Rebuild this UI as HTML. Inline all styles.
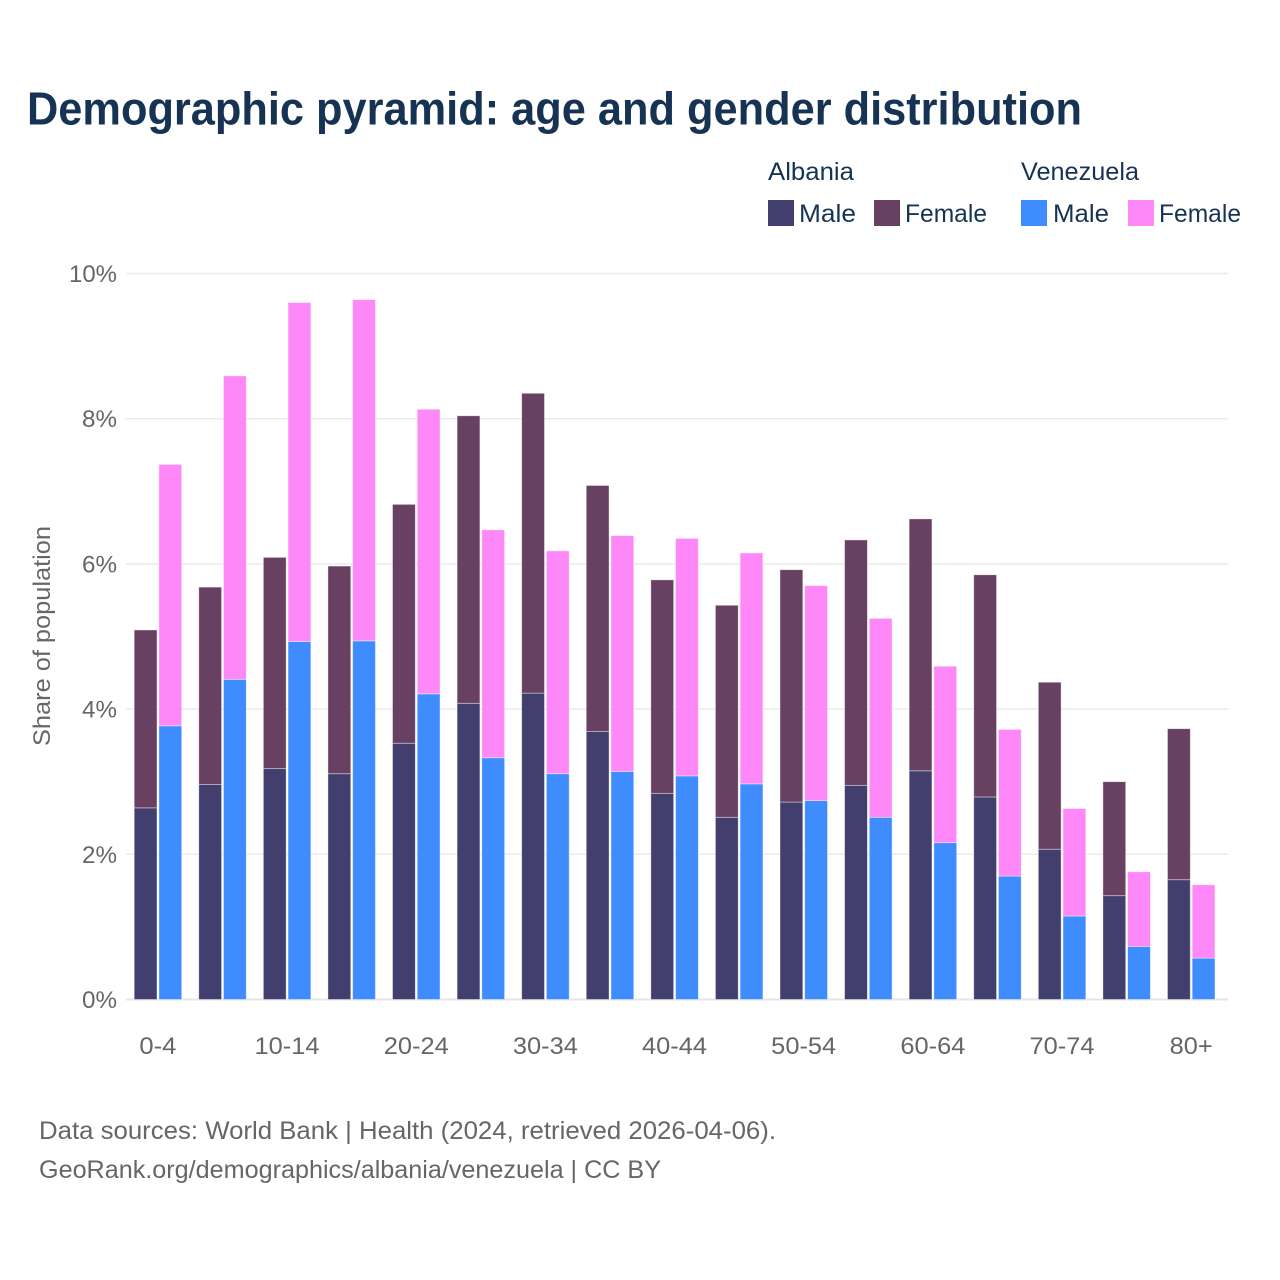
<!DOCTYPE html>
<html lang="en">
<head>
<meta charset="utf-8">
<title>Demographic pyramid: age and gender distribution</title>
<style>
html,body{margin:0;padding:0;background:#fff;width:1280px;height:1280px;overflow:hidden}
svg{display:block}
text{font-family:"Liberation Sans",sans-serif}
</style>
</head>
<body>
<svg id="chart" xmlns="http://www.w3.org/2000/svg" width="1280" height="1280" viewBox="0 0 1280 1280">
<rect x="0" y="0" width="1280" height="1280" fill="#fff"/>
<text x="27" y="124.5" font-size="46" font-weight="700" fill="#173354" textLength="1055" lengthAdjust="spacingAndGlyphs">Demographic pyramid: age and gender distribution</text>

<g font-size="25" fill="#173354">
<text x="768" y="180" textLength="86" lengthAdjust="spacingAndGlyphs">Albania</text>
<text x="1021" y="180" textLength="118" lengthAdjust="spacingAndGlyphs">Venezuela</text>
<rect x="768" y="200" width="26" height="26" fill="#423e6e"/>
<text x="799" y="222" textLength="57" lengthAdjust="spacingAndGlyphs">Male</text>
<rect x="874" y="200" width="26" height="26" fill="#674062"/>
<text x="905" y="222" textLength="82" lengthAdjust="spacingAndGlyphs">Female</text>
<rect x="1021" y="200" width="26" height="26" fill="#3f8cff"/>
<text x="1053" y="222" textLength="56" lengthAdjust="spacingAndGlyphs">Male</text>
<rect x="1128" y="200" width="26" height="26" fill="#ff88f9"/>
<text x="1159" y="222" textLength="82" lengthAdjust="spacingAndGlyphs">Female</text>
</g>

<g id="grid"></g>
<g id="yticks"></g>
<text x="0" y="0" transform="translate(50,746) rotate(-90)" font-size="24.5" fill="#666" textLength="220" lengthAdjust="spacingAndGlyphs">Share of population</text>
<g id="bars"></g>
<g id="xticks"></g>

<text x="39" y="1139" font-size="25" fill="#666" textLength="737" lengthAdjust="spacingAndGlyphs">Data sources: World Bank | Health (2024, retrieved 2026-04-06).</text>
<text x="39" y="1178" font-size="25" fill="#666" textLength="622" lengthAdjust="spacingAndGlyphs">GeoRank.org/demographics/albania/venezuela | CC BY</text>
</svg>
<script>
const categories = ['0-4','5-9','10-14','15-19','20-24','25-29','30-34','35-39','40-44','45-49','50-54','55-59','60-64','65-69','70-74','75-79','80+'];
const albaniaMale = [2.64,2.96,3.18,3.11,3.53,4.08,4.22,3.69,2.84,2.51,2.72,2.95,3.15,2.79,2.07,1.43,1.65];
const albaniaFemale = [2.45,2.72,2.91,2.86,3.29,3.96,4.13,3.39,2.94,2.92,3.20,3.38,3.47,3.06,2.30,1.57,2.08];
const venezuelaMale = [3.77,4.41,4.93,4.94,4.21,3.33,3.11,3.14,3.08,2.97,2.74,2.51,2.16,1.70,1.15,0.73,0.57];
const venezuelaFemale = [3.60,4.18,4.67,4.70,3.92,3.14,3.07,3.25,3.27,3.18,2.96,2.74,2.43,2.02,1.48,1.03,1.01];
const yTickValues = [0,2,4,6,8,10];
const yTickLabels = ['0%','2%','4%','6%','8%','10%'];
const xTickLabels = ['0-4','10-14','20-24','30-34','40-44','50-54','60-64','70-74','80+'];
const xTickCategoryIndex = [0,2,4,6,8,10,12,14,16];

const NS = 'http://www.w3.org/2000/svg';
function yScale(v){ return 999.5 - v * 72.6; }
function xCenter(i){ return 158.2 + i * 64.58; }
function make(tag, parent){
  const el = document.createElementNS(NS, tag);
  parent.appendChild(el);
  return el;
}
const gridG = document.getElementById('grid');
const yG = document.getElementById('yticks');
const xG = document.getElementById('xticks');
const barsG = document.getElementById('bars');

yTickValues.forEach(function(v, i){
  const line = make('line', gridG);
  
  
  line.setAttribute('x1', 126);
  line.setAttribute('x2', 1228);
  line.setAttribute('y1', yScale(v));
  line.setAttribute('y2', yScale(v));
  line.setAttribute('stroke', v === 0 ? '#e6e6e6' : '#ebebeb');
  line.setAttribute('stroke-width', v === 0 ? 2 : 1.5);
  const t = make('text', yG);
  
  
  t.setAttribute('x', 117);
  t.setAttribute('y', yScale(v) + 8.5);
  t.setAttribute('text-anchor', 'end');
  t.setAttribute('font-size', '24.5');
  t.setAttribute('fill', '#666');
  t.setAttribute('textLength', label_width(yTickLabels[i]));
  t.setAttribute('lengthAdjust', 'spacingAndGlyphs');
  t.textContent = yTickLabels[i];
});
function label_width(label){ return label.length === 3 ? 48 : 35; }

xTickLabels.forEach(function(label, i){
  const t = make('text', xG);
  
  
  t.setAttribute('x', xCenter(xTickCategoryIndex[i]) - 0.3);
  t.setAttribute('y', 1054);
  t.setAttribute('text-anchor', 'middle');
  t.setAttribute('font-size', '24.5');
  t.setAttribute('fill', '#666');
  t.setAttribute('textLength', label.length === 3 ? (label === '80+' ? 43 : 37) : 65);
  t.setAttribute('lengthAdjust', 'spacingAndGlyphs');
  t.textContent = label;
});

function addBar(x, base, value, fill, name){
  const r = make('rect', barsG);
  
  
  const top = yScale(base + value);
  r.setAttribute('x', x);
  r.setAttribute('y', top);
  r.setAttribute('width', 22.8);
  r.setAttribute('height', yScale(base) - top);
  r.setAttribute('fill', fill);
  r.setAttribute('stroke', '#ffffff');
  r.setAttribute('stroke-opacity', '0.5');
  r.setAttribute('stroke-width', '0.8');
}
categories.forEach(function(cat, i){
  const c = xCenter(i);
  addBar(c - 24, 0, albaniaMale[i], '#423e6e', 'bar-albania-male-' + cat);
  addBar(c - 24, albaniaMale[i], albaniaFemale[i], '#674062', 'bar-albania-female-' + cat);
  addBar(c + 0.7, 0, venezuelaMale[i], '#3f8cff', 'bar-venezuela-male-' + cat);
  addBar(c + 0.7, venezuelaMale[i], venezuelaFemale[i], '#ff88f9', 'bar-venezuela-female-' + cat);
});
</script>
</body>
</html>
